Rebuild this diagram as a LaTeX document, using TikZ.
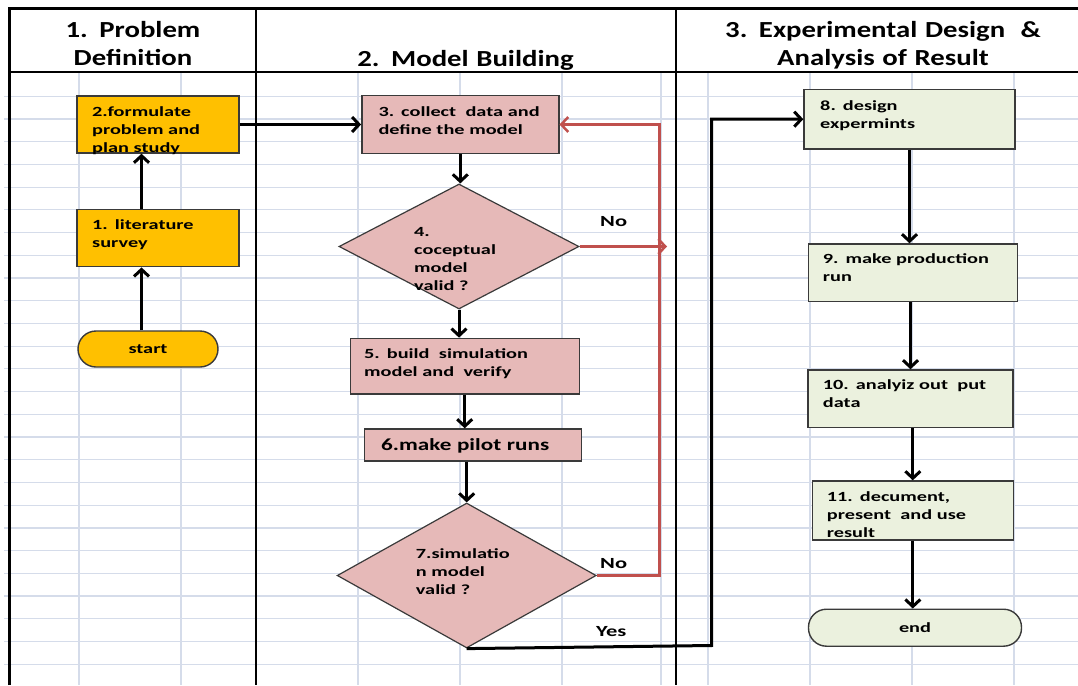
\documentclass[tikz,border=0pt]{standalone}
\usepackage{fontspec}
\usetikzlibrary{arrows.meta,shapes.geometric,calc}
\newfontfamily\headfont[FakeStretch=1.25]{Carlito}
\newfontfamily\boxfont[FakeStretch=1.45]{Carlito}
\newfontfamily\bigboxfont[FakeStretch=1.36]{Carlito}

\definecolor{gridline}{HTML}{D5DCEA}
\definecolor{boxline}{HTML}{3A3A3A}
\definecolor{phaseone}{HTML}{FFC000}
\definecolor{phasetwo}{HTML}{E6B9B8}
\definecolor{phasethree}{HTML}{EBF1DE}
\definecolor{loopred}{HTML}{C0504D}

\tikzset{
  sheetgrid/.style={draw=gridline, line width=1.2pt},
  frame/.style={draw=black, line width=2.6pt},
  stepbox/.style={draw=boxline, line width=1.4pt, inner sep=0pt},
  decision/.style={diamond, draw=boxline, line width=1.2pt, inner sep=0pt, fill=phasetwo},
  terminal/.style={draw=boxline, line width=1.4pt, rounded corners=18pt, inner sep=0pt,
    font=\boxfont\bfseries\fontsize{14}{18}\selectfont},
  boxtxt/.style={font=\boxfont\bfseries\fontsize{14}{18}\selectfont, align=left,
    text width=210pt, inner sep=0pt, anchor=base west},
  headtxt/.style={font=\headfont\bfseries\fontsize{23}{28.5}\selectfont, align=center,
    text width=400pt, inner sep=0pt, anchor=base},
  answer/.style={font=\boxfont\bfseries\fontsize{15.5}{18}\selectfont, inner sep=0pt, anchor=base west},
  arr/.style={draw=black, line width=3pt, -{Straight Barb[length=7pt,width=15pt]}},
  redarr/.style={draw=loopred, line width=2.5pt, -{Straight Barb[length=7pt,width=15pt]}},
}

\begin{document}
\begin{tikzpicture}[x=1pt,y=-1pt]
\useasboundingbox (0,0) rectangle (1078,685);
\fill[white] (0,0) rectangle (1078,685);

% spreadsheet cell grid
\foreach \x in {79,181,358,460,562,661,708,810,912,1014}
  \draw[sheetgrid] (\x,72) -- (\x,685);
\foreach \k in {1,...,26}
  \draw[sheetgrid] (4,{73.5+22.72*\k}) -- (1078,{73.5+22.72*\k});

% swimlane frame
\draw[frame] (9.5,685) -- (9.5,8.5) -- (1078,8.5);
\draw[frame] (9.5,72) -- (1078,72);
\draw[frame] (256,8.5) -- (256,685);
\draw[frame] (676,8.5) -- (676,685);

% lane headings
\node[headtxt] (h1) at (133,37.5) {1. Problem\\Definition};
\node[headtxt] (h2) at (465.5,66.5) {2. Model Building};
\node[headtxt] (h3) at (883,37.5) {3. Experimental Design~~\&\\Analysis of Result};

% lane 1: problem definition
\node[stepbox, fill=phaseone, minimum width=162pt, minimum height=57pt] (b2) at (158,124.5) {};
\node[stepbox, fill=phaseone, minimum width=162pt, minimum height=57.4pt] (b1) at (158,238) {};
\node[terminal, fill=phaseone, minimum width=140pt, minimum height=36pt] (st) at (148,349) {start};
\node[boxtxt] (t2) at (92,116) {2.formulate\\problem and\\plan study};
\node[boxtxt] (t1) at (92,229) {1. literature\\survey};

% lane 2: model building
\node[stepbox, fill=phasetwo, minimum width=197pt, minimum height=57.6pt] (b3) at (460.3,124.5) {};
\node[decision, minimum width=240pt, minimum height=125pt] (d4) at (459,246.5) {};
\node[stepbox, fill=phasetwo, minimum width=229pt, minimum height=55.7pt] (b5) at (464.7,366.2) {};
\node[stepbox, fill=phasetwo, minimum width=217pt, minimum height=32pt] (b6) at (473,445) {};
\node[decision, minimum width=259pt, minimum height=145pt] (d7) at (466.7,575.5) {};
\node[boxtxt] (t3) at (378.3,116) {3. collect~ data and\\define the model};
\node[boxtxt] (t4) at (414,236) {4.\\coceptual\\model\\valid ?};
\node[boxtxt] (t5) at (364,358) {5. build~ simulation\\model and~ verify};
\node[boxtxt, font=\bigboxfont\bfseries\fontsize{17}{20}\selectfont] (t6) at (381,450.7) {6.make pilot runs};
\node[boxtxt] (t7) at (415.7,558) {7.simulatio\\n model\\valid ?};

% lane 3: experimental design and analysis
\node[stepbox, fill=phasethree, minimum width=211pt, minimum height=59.7pt] (b8) at (909.5,119.2) {};
\node[stepbox, fill=phasethree, minimum width=209pt, minimum height=57.7pt] (b9) at (912.8,272.8) {};
\node[stepbox, fill=phasethree, minimum width=205pt, minimum height=57.7pt] (b10) at (910.5,398.8) {};
\node[stepbox, fill=phasethree, minimum width=201pt, minimum height=59pt] (b11) at (912.8,510.5) {};
\node[terminal, fill=phasethree, minimum width=213pt, minimum height=37pt] (e) at (915,627.7) {end};
\node[boxtxt] (t8) at (820,110) {8. design\\expermints};
\node[boxtxt] (t9) at (822.7,263.3) {9. make production\\run};
\node[boxtxt] (t10) at (822.7,389) {10. analyiz out~ put\\data};
\node[boxtxt] (t11) at (826.7,501.7) {11. decument,\\present~ and use\\result};

% branch labels
\node[answer] (no4) at (600,226.7) {No};
\node[answer] (no7) at (600,568.3) {No};
\node[answer] (yes7) at (596,636.7) {Yes};

% flow in lane 1
\draw[arr] ([xshift=-6.5pt]st.north) -- ([xshift=-6.5pt]st.north |- b1.south);
\draw[arr] ([xshift=-16.5pt]b1.north) -- ([xshift=-16.5pt]b1.north |- b2.south);
\draw[arr] (b2.east) -- (b3.west);

% flow in lane 2
\draw[arr] (b3.south) -- (b3.south |- d4.north);
\draw[arr] (d4.south) -- (d4.south |- b5.north);
\draw[arr] (b5.south) -- (b5.south |- b6.north);
\draw[arr] (b6.south -| d7.north) -- (d7.north);

% rejection loops back to data collection
\coordinate (rjoin) at (667,246.5);
\coordinate (rtop) at (659.5,124.5);
\draw[redarr] (d4.east) -- (rjoin);
\draw[redarr] (d7.east) -| (rtop) -- (b3.east);

% accepted model goes on to experiment design
\coordinate (ycorner) at (711.5,645.5);
\draw[arr] (d7.south) -- (ycorner) |- (b8.west);

% flow in lane 3
\draw[arr] (b8.south) -- (b8.south |- b9.north);
\draw[arr] (b9.south -| b10.north) -- (b10.north);
\draw[arr] (b10.south -| b11.north) -- (b11.north);
\draw[arr] (b11.south) -- (b11.south |- e.north);
\end{tikzpicture}
\end{document}
